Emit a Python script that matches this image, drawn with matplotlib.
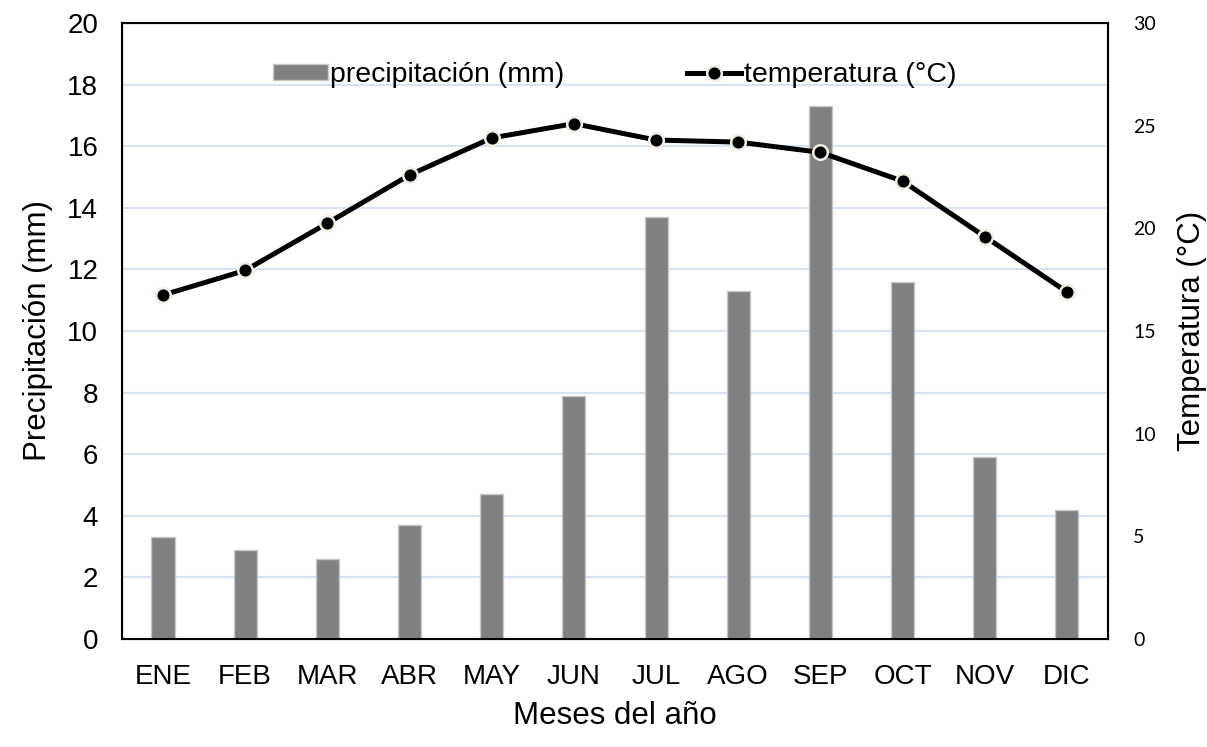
import numpy as np
import matplotlib
matplotlib.use("Agg")
from matplotlib import pyplot as plt

# %% data
meses = ["ENE", "FEB", "MAR", "ABR", "MAY", "JUN", "JUL", "AGO", "SEP", "OCT", "NOV", "DIC"]
precipitacion = [3.3, 2.9, 2.6, 3.7, 4.7, 7.9, 13.7, 11.3, 17.3, 11.6, 5.9, 4.2]
temperatura = [16.75, 17.95, 20.25, 22.6, 24.4, 25.1, 24.3, 24.2, 23.7, 22.3, 19.6, 16.9]

plt.rcParams['font.family'] = ['Liberation Sans', 'DejaVu Sans']

# %% figure
fig = plt.figure(figsize=(12.07, 7.47), dpi=100)
ax = fig.add_axes([0.101, 0.1446, 0.817, 0.8246])
x = np.arange(len(meses))

ax.bar(x, precipitacion, width=0.28, color="#808080", edgecolor="#c8c8c8",
       linewidth=1, label="precipitación (mm)", zorder=2)
ax.set_ylim(0, 20)
ax.set_yticks(np.arange(0, 21, 2))
ax.set_xlim(-0.5, len(meses) - 0.5)
ax.set_xticks(x)
ax.set_xticklabels(meses)
ax.grid(axis="y", color="#d6e3f2", linewidth=1.5, zorder=0)
ax.tick_params(axis="both", labelsize=20, length=0)
ax.tick_params(axis="x", pad=18)
ax.tick_params(axis="y", pad=17)
for s in ax.spines.values():
    s.set_linewidth(1.5)
ax.set_ylabel("Precipitación (mm)", fontsize=22.5, labelpad=10)
ax.set_xlabel("Meses del año", fontsize=22.5, labelpad=8)

# temperature on the secondary axis
ax2 = ax.twinx()
ax2.plot(x, temperatura, color="black", linewidth=3.6, marker="o", markersize=10.5,
         markerfacecolor="black", markeredgecolor="#f0eee2", markeredgewidth=1.8,
         label="temperatura (°C)", zorder=3)
ax2.set_ylim(0, 30)
ax2.set_yticks(np.arange(0, 31, 5))
ax2.tick_params(axis="y", length=0, pad=18)
for lab in ax2.get_yticklabels():
    lab.set_family(["Lato", "DejaVu Sans"])
    lab.set_fontsize(14)
ax2.set_ylabel("Temperatura (°C)", fontsize=22.5, labelpad=15)

# legend
h1, l1 = ax.get_legend_handles_labels()
h2, l2 = ax2.get_legend_handles_labels()
ax2.legend(h1 + h2, l1 + l2, loc="upper center", bbox_to_anchor=(0.5, 0.978), ncol=2,
           frameon=False, fontsize=20.5, columnspacing=4.3, handlelength=1.9,
           handleheight=0.5, handletextpad=0.1)

plt.savefig("out.png", dpi=100)
